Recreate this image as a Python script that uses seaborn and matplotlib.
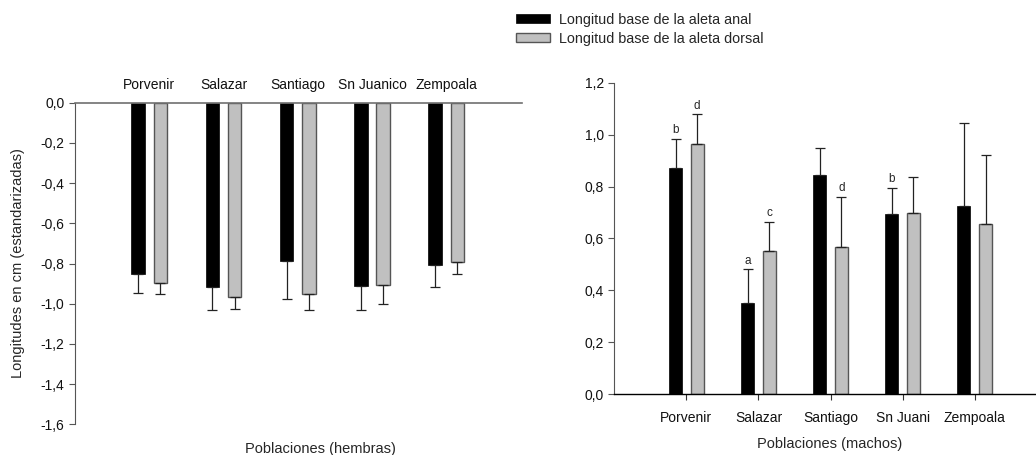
import matplotlib
matplotlib.use("Agg")
import matplotlib.pyplot as plt
import seaborn as sns
import pandas as pd
import numpy as np
from matplotlib.patches import Patch
from matplotlib.ticker import FuncFormatter

sns.set_style("white")
plt.rcParams['font.family'] = ['Liberation Sans', 'DejaVu Sans']

series = ["Longitud base de la aleta anal", "Longitud base de la aleta dorsal"]
colors = ["#000000", "#c0c0c0"]

pob_h = ["Porvenir", "Salazar", "Santiago", "Sn Juanico", "Zempoala"]
h_anal = [-0.854, -0.917, -0.789, -0.910, -0.806]
h_anal_err = [0.094, 0.113, 0.189, 0.120, 0.109]
h_dorsal = [-0.895, -0.968, -0.950, -0.907, -0.791]
h_dorsal_err = [0.058, 0.057, 0.080, 0.096, 0.061]

pob_m = ["Porvenir", "Salazar", "Santiago", "Sn Juani", "Zempoala"]
m_anal = [0.870, 0.352, 0.843, 0.694, 0.725]
m_anal_err = [0.114, 0.129, 0.107, 0.100, 0.320]
m_dorsal = [0.965, 0.551, 0.569, 0.699, 0.657]
m_dorsal_err = [0.113, 0.113, 0.192, 0.139, 0.266]
m_anal_letters = ["b", "a", "", "b", ""]
m_dorsal_letters = ["d", "c", "d", "", ""]

fig = plt.figure(figsize=(10.36, 4.55), dpi=100)
ax1 = fig.add_axes([75/1036, 1-424.3/455, 447/1036, (424.3-102.7)/455])
ax2 = fig.add_axes([614.3/1036, 1-394.3/455, 421/1036, (394.3-82.7)/455])


def fmt_comma(v, p):
    s = f"{v:.1f}"
    if s == "-0.0":
        s = "0.0"
    return s.replace(".", ",")


comma = FuncFormatter(fmt_comma)
FS = 10


def draw(ax, cats, a, ae, d, de, down):
    df = pd.DataFrame({
        "pob": cats * 2,
        "serie": [series[0]] * len(cats) + [series[1]] * len(cats),
        "val": list(a) + list(d),
    })
    sns.barplot(data=df, x="pob", y="val", hue="serie", order=cats,
                hue_order=series, palette=colors, width=0.6, gap=0.4,
                errorbar=None, ax=ax, legend=False, saturation=1)
    errs = [ae, de]
    out = []
    conts = list(ax.containers)
    for k, cont in enumerate(conts):
        xs = []
        for p in cont.patches:
            xs.append(p.get_x() + p.get_width() / 2)
            if k == 1:
                p.set_edgecolor("#555555")
                p.set_linewidth(1.0)
            else:
                p.set_edgecolor("#000000")
                p.set_linewidth(0.5)
        vals = [a, d][k]
        e = np.array(errs[k])
        yerr = [e, np.zeros_like(e)] if down else [np.zeros_like(e), e]
        ax.errorbar(xs, vals, yerr=yerr, fmt="none", ecolor="#222222",
                    elinewidth=0.9, capsize=3.6, capthick=0.9, zorder=3)
        out.append((xs, vals, e))
    return out


# Left panel (hembras)
draw(ax1, pob_h, h_anal, h_anal_err, h_dorsal, h_dorsal_err, down=True)
ax1.set_ylim(-1.6, 0)
ax1.set_xlim(-1, 5.02)
ax1.set_yticks(np.arange(-1.6, 0.01, 0.2))
ax1.yaxis.set_major_formatter(comma)
ax1.xaxis.tick_top()
ax1.tick_params(axis="x", length=0, pad=8, labelsize=FS, labelcolor="#111111")
ax1.tick_params(axis="y", direction="out", length=4, width=0.8, color="#555555",
                labelsize=FS, left=True, labelcolor="#111111")
for s in ["bottom", "right"]:
    ax1.spines[s].set_visible(False)
ax1.spines["top"].set_color("#707070")
ax1.spines["top"].set_linewidth(1.2)
ax1.spines["left"].set_color("#555555")
ax1.spines["left"].set_linewidth(0.8)
ax1.set_xlabel("Poblaciones (hembras)", fontsize=FS + 0.5)
ax1.xaxis.set_label_position("bottom")
ax1.xaxis.set_label_coords((320 - 75) / 447, -18 / 321.6)
ax1.set_ylabel("Longitudes en cm (estandarizadas)", fontsize=FS + 0.5)
ax1.yaxis.set_label_coords((25 - 75) / 447, 0.5)

# Right panel (machos)
res = draw(ax2, pob_m, m_anal, m_anal_err, m_dorsal, m_dorsal_err, down=False)
ax2.set_ylim(0, 1.2)
ax2.set_xlim(-1, 4.84)
ax2.set_yticks(np.arange(0, 1.21, 0.2))
ax2.yaxis.set_major_formatter(comma)
ax2.tick_params(axis="x", direction="out", length=4, width=0.8, color="#333333",
                labelsize=FS, bottom=True, pad=8, labelcolor="#111111")
ax2.tick_params(axis="y", direction="out", length=4, width=0.8, color="#555555",
                labelsize=FS, left=True, labelcolor="#111111")
for s in ["top", "right"]:
    ax2.spines[s].set_visible(False)
ax2.spines["bottom"].set_color("#000000")
ax2.spines["bottom"].set_linewidth(1.0)
ax2.spines["left"].set_color("#555555")
ax2.spines["left"].set_linewidth(0.8)
ax2.set_xlabel("Poblaciones (machos)", fontsize=FS + 0.5)
ax2.xaxis.set_label_coords((830 - 614.3) / 421, -43 / 311.6)
ax2.set_ylabel("")

for (xs, vals, e), letters in zip(res, [m_anal_letters, m_dorsal_letters]):
    for x, v, ee, L in zip(xs, vals, e, letters):
        if L:
            ax2.annotate(L, (x, v + ee), xytext=(0, 2), textcoords="offset points",
                         ha="center", va="bottom", fontsize=FS - 1.5)

handles = [Patch(facecolor=colors[0], edgecolor="#000000", linewidth=0.5),
           Patch(facecolor=colors[1], edgecolor="#555555", linewidth=1.0)]
fig.legend(handles, series, loc="upper left", bbox_to_anchor=(510 / 1036, 1 - 7 / 455),
           frameon=False, fontsize=10.4, handlelength=2.4, handleheight=0.6,
           handletextpad=0.6, labelspacing=0.35, borderaxespad=0)

fig.savefig("out.png", dpi=100)
